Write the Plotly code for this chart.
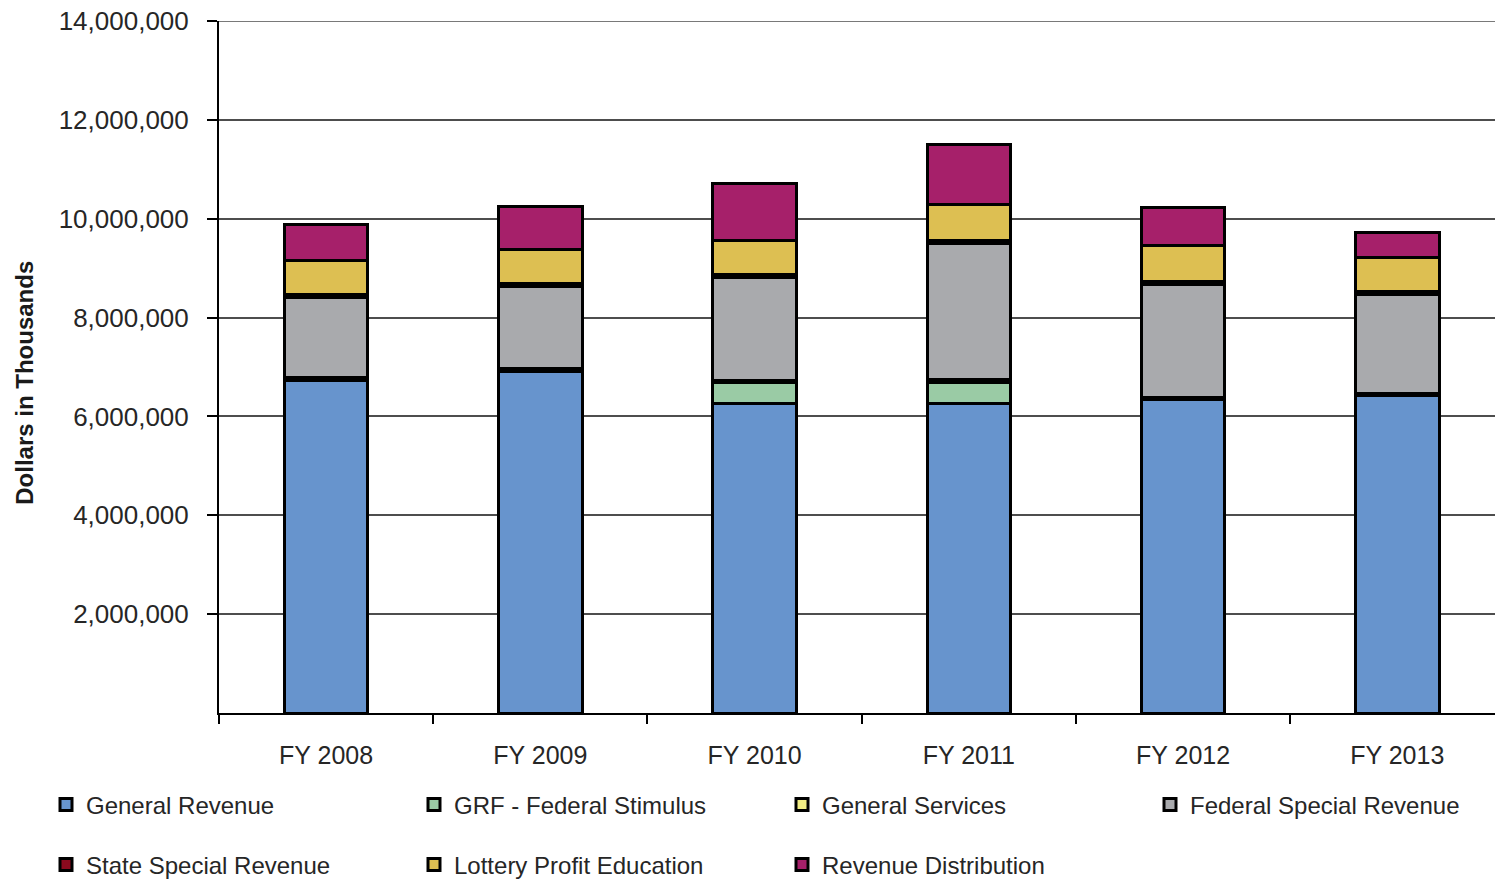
import plotly.graph_objects as go

# Fiscal years on the category axis
years = ["FY 2008", "FY 2009", "FY 2010", "FY 2011", "FY 2012", "FY 2013"]

# Funding sources, dollars in thousands (stacked bottom to top)
general_revenue = [6730000, 6905000, 6254000, 6254000, 6335000, 6424000]
grf_federal_stimulus = [0, 0, 436000, 435000, 0, 0]
general_services = [60000, 60000, 30000, 60000, 40000, 40000]
federal_special_revenue = [1617000, 1657000, 2096000, 2755000, 2285000, 1994000]
state_special_revenue = [60000, 60000, 60000, 60000, 60000, 60000]
lottery_profit_education = [690000, 687000, 687000, 730000, 738000, 692000]
revenue_distribution = [725000, 880000, 1155000, 1200000, 762000, 505000]

y_ticks = [2000000, 4000000, 6000000, 8000000, 10000000, 12000000, 14000000]
Y_MAX = 14000000

# (name, values, fill colour, legend id)
series = [
    ("General Revenue", general_revenue, "#6794CD", "legend"),
    ("GRF - Federal Stimulus", grf_federal_stimulus, "#9ACBA5", "legend"),
    ("General Services", general_services, "#F2EE84", "legend"),
    ("Federal Special Revenue", federal_special_revenue, "#A9AAAD", "legend3"),
    ("State Special Revenue", state_special_revenue, "#8B0A1E", "legend2"),
    ("Lottery Profit Education", lottery_profit_education, "#DDBF52", "legend2"),
    ("Revenue Distribution", revenue_distribution, "#A6206A", "legend2"),
]

FONT = "Liberation Sans, Arial, sans-serif"
TEXT = "#262626"
GRID = "#4d4d4d"

fig = go.Figure()
for name, vals, color, lg in series:
    fig.add_trace(go.Bar(
        name=name, x=years, y=vals, legend=lg,
        marker=dict(color=color, line=dict(color="#000000", width=3)),
        hoverinfo="name+y",
    ))

W, H = 1495, 879
COL = 368          # legend column pitch in px
X0 = 46            # left edge of first legend column
legend_common = dict(
    orientation="h", xref="container", yref="container",
    xanchor="left", yanchor="middle",
    entrywidth=COL - 45, entrywidthmode="pixels",
    font=dict(family=FONT, size=24, color=TEXT),
    bgcolor="rgba(0,0,0,0)", borderwidth=0, traceorder="normal",
)

fig.update_layout(
    width=W, height=H,
    barmode="stack", bargap=0.61,
    paper_bgcolor="white", plot_bgcolor="white",
    margin=dict(l=219, r=0, t=21, b=166, autoexpand=False),
    font=dict(family=FONT, color=TEXT),
    showlegend=True,
    legend=dict(x=X0 / W, y=1 - 805 / H, **legend_common),
    legend3=dict(x=(X0 + 3 * COL) / W, y=1 - 805 / H, **legend_common),
    legend2=dict(x=X0 / W, y=1 - 865 / H, **legend_common),
    xaxis=dict(
        range=[-0.5, 5.456],
        showline=True, linecolor="#000000", linewidth=2,
        ticks="outside", tickson="boundaries", ticklen=9,
        tickcolor="#000000", tickwidth=2,
        tickfont=dict(family=FONT, size=25, color=TEXT),
        ticklabelstandoff=19,
        showgrid=False, zeroline=False,
    ),
    yaxis=dict(
        range=[0, Y_MAX],
        tickvals=y_ticks, tickformat=",d",
        showline=True, linecolor="#000000", linewidth=2,
        ticks="outside", ticklen=10, tickcolor="#000000", tickwidth=2,
        tickfont=dict(family=FONT, size=26, color=TEXT),
        ticklabelstandoff=13,
        showgrid=True, gridcolor=GRID, gridwidth=1.5,
        zeroline=False,
    ),
    # gridline along the top of the value range
    shapes=[dict(
        type="line", xref="paper", yref="y", x0=0, x1=1, y0=Y_MAX, y1=Y_MAX,
        line=dict(color=GRID, width=1.5), layer="below",
    )],
    annotations=[dict(
        text="<b>Dollars in Thousands</b>",
        xref="paper", yref="paper", x=0, y=(713.5 - 383) / 692.5,
        xshift=25 - 219, xanchor="center", yanchor="middle",
        textangle=-90, showarrow=False,
        font=dict(family=FONT, size=24, color="#1a1a1a"),
    )],
)

fig.write_html("out.html")
